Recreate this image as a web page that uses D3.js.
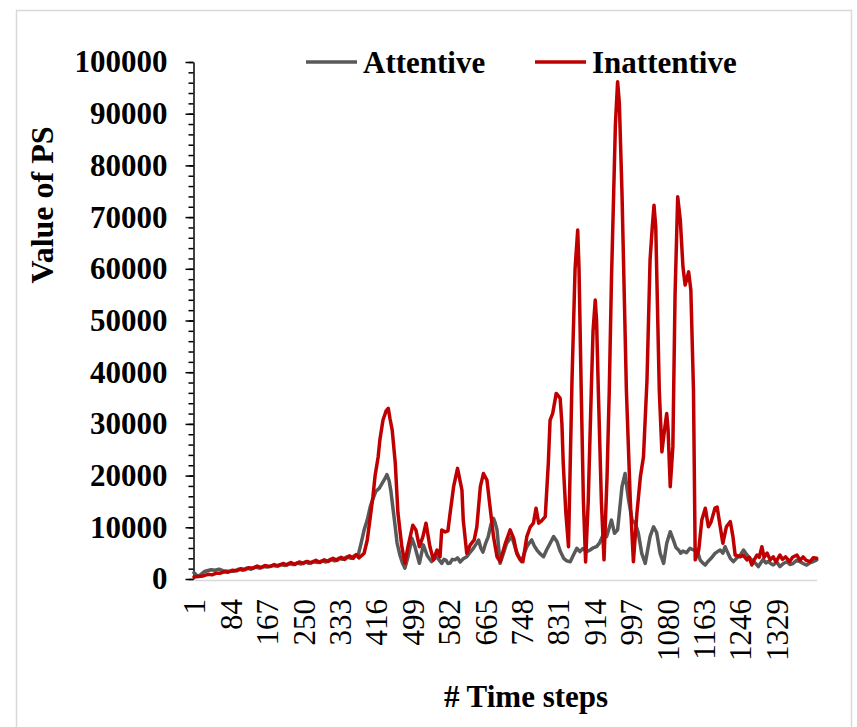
<!DOCTYPE html>
<html>
<head>
<meta charset="utf-8">
<script src="https://cdn.jsdelivr.net/npm/d3@7"></script>
<style>
  html, body { margin: 0; padding: 0; background: #fff; }
  svg { display: block; }
</style>
</head>
<body>
<svg id="chart" width="857" height="727"></svg>
<script>
// Time-step tick labels on the category axis
const xTickLabels = [1, 84, 167, 250, 333, 416, 499, 582, 665, 748, 831, 914, 997, 1080, 1163, 1246, 1329];
const lastStep = 1421;

// PS value axis
const yMajorTicks = [0, 10000, 20000, 30000, 40000, 50000, 60000, 70000, 80000, 90000, 100000];
const yMinorStep = 2000;

const seriesNames = ["Attentive", "Inattentive"];

// Attentive series: time step and value of PS
const attentiveSteps = [1, 6, 10, 17, 24, 31, 40, 49, 58, 67, 79, 92, 103, 112, 121, 131, 140, 150, 159, 168, 179, 188, 198, 208, 217, 227, 236, 245, 254, 263, 273, 283, 293, 302, 312, 322, 331, 340, 350, 359, 367, 376,
  382, 389, 396, 403, 409, 416, 423, 430, 437, 441, 446, 450, 455, 460, 464, 471, 476, 482, 489, 498, 505, 515, 524, 533, 543, 549, 555, 560, 566, 571, 576, 580, 585, 590, 596, 602, 608, 615, 623, 630, 638, 644, 650, 655, 660, 666, 672, 678, 684, 688, 692, 699,
  706, 714, 720, 726, 735, 741, 748, 754, 760, 765, 771, 777, 783, 790, 798, 805, 813, 821, 829, 836, 844, 851, 859, 866, 874, 881, 888, 896, 904, 911, 919, 926, 934, 942, 953, 960, 967, 977, 984, 992, 1000, 1007, 1014, 1022, 1030, 1041, 1049, 1056, 1064, 1072, 1079,
  1087, 1094, 1100, 1106, 1111, 1116, 1124, 1132, 1140, 1148, 1155, 1161, 1167, 1172, 1178, 1184, 1189, 1195, 1201, 1207, 1212, 1218, 1224, 1231, 1239, 1247, 1254, 1262, 1270, 1277, 1283, 1288, 1294, 1299, 1305, 1310, 1316, 1322, 1330, 1337, 1345, 1353, 1360, 1367, 1375, 1383, 1390, 1398, 1405, 1413, 1421];
const attentiveValues = [1200, 800, 500, 900, 1400, 1600, 1800, 1700, 1900, 1600, 1500, 1500, 1900, 1700, 2100, 1900, 2300, 2100, 2400, 2300, 2600, 2500, 2800, 2600, 3000, 2800, 3100, 2900, 3300, 3000, 3400, 3200, 3500, 3300, 3800, 3500, 4000, 3800, 4300, 4000, 4500, 4800,
  6900, 9500, 11400, 14000, 15500, 17000, 17500, 18500, 19500, 20200, 19000, 17000, 13500, 10000, 7000, 4500, 3200, 2100, 4300, 7870, 6200, 3030, 6600, 4500, 3350, 3900, 4300, 3700, 3030, 3800, 3600, 3000, 3100, 3800, 3700, 4100, 3300, 3900, 4300, 5100, 5940, 6700, 7550, 6000, 5200, 6900, 8200, 10500, 11750, 10800, 9500, 3030,
  4800, 6900, 7600, 8200, 5600, 4400, 3350, 4900, 6250, 6900, 7550, 6400, 5600, 4900, 4300, 5600, 6900, 8200, 7200, 5400, 4000, 3500, 3350, 4600, 5940, 5300, 5900, 5300, 5600, 6000, 6250, 7000, 8500, 8200, 11400, 8840, 9500, 17850, 20400, 15300, 11400, 10800, 9000, 4960, 3030, 8200, 10100, 9000, 4960, 3030, 6900,
  9150, 7550, 6100, 5600, 5000, 5400, 5100, 5940, 5600, 5700, 3700, 3100, 2700, 3300, 3800, 4400, 4960, 5300, 5600, 5000, 6250, 5100, 4000, 3350, 4100, 4640, 5600, 4640, 3900, 3350, 2900, 2400, 3200, 3800, 3100, 3400, 3000, 2700, 3300, 2400, 3000, 3350, 2800, 3000, 3600, 3350, 3000, 2700, 3100, 3350, 3700];

// Inattentive series: time step and value of PS
const inattentiveSteps = [1, 10, 22, 33, 42, 51, 60, 69, 79, 88, 99, 108, 117, 126, 136, 145, 154, 163, 174, 184, 193, 204, 213, 222, 231, 241, 250, 259, 268, 279, 288, 298, 307, 318, 327, 336, 345, 355, 364, 371, 377, 384,
  389, 396, 403, 409, 414, 421, 425, 432, 439, 444, 448, 453, 460, 466, 475, 482, 489, 500, 507, 515, 523, 530, 539, 547, 555, 562, 566, 574, 580, 585, 593, 602, 612, 615, 623, 631, 640, 646, 654, 661, 669, 676, 684, 692, 699,
  711, 722, 730, 737, 745, 751, 760, 768, 775, 781, 787, 793, 802, 809, 813, 819, 827, 831, 836, 840, 843, 849, 855, 863, 870, 876, 879, 884, 889, 894, 900, 907, 911, 916, 919, 923, 930, 936, 943, 948, 953, 958, 962, 967, 971, 977, 987, 996,
  1003, 1011, 1019, 1026, 1034, 1041, 1046, 1050, 1054, 1062, 1068, 1073, 1079, 1082, 1087, 1093, 1098, 1104, 1110, 1116, 1121, 1129, 1134, 1140, 1144, 1152, 1159, 1167, 1174, 1180, 1189, 1194, 1201, 1207, 1215, 1224, 1230, 1235,
  1247, 1253, 1262, 1267, 1273, 1279, 1285, 1290, 1296, 1301, 1308, 1315, 1322, 1328, 1337, 1343, 1350, 1359, 1366, 1376, 1383, 1390, 1397, 1406, 1413, 1421];
const inattentiveValues = [400, 500, 600, 900, 800, 1100, 1100, 1400, 1300, 1700, 1600, 2000, 1800, 2200, 2100, 2500, 2200, 2600, 2400, 2800, 2500, 3000, 2700, 3200, 2800, 3300, 3000, 3400, 3100, 3600, 3200, 3700, 3400, 4000, 3600, 4200, 3800, 4500, 4000, 4700, 4100, 4600,
  5000, 7500, 12000, 15900, 20000, 23650, 27000, 30750, 32500, 33000, 31000, 28800, 22400, 12800, 6250, 3030, 6250, 10400, 9500, 6250, 8200, 10800, 6250, 3700, 5600, 4300, 9500, 9100, 9300, 12700, 17850, 21400, 17200, 11400, 4960, 6600, 7550, 10100, 17850, 20400, 19150, 14000, 8200, 4300, 3350,
  6900, 9500, 7870, 4960, 3700, 3350, 8200, 10100, 10800, 13700, 10800, 11200, 12050, 22400, 30750, 32050, 35900, 35500, 34950, 30000, 22400, 12750, 6250, 38500, 60000, 67500, 60000, 36550, 15000, 3300, 15000, 36550, 48000, 53950, 50000, 36550, 15000, 3700, 20000, 36550, 58000, 74600, 88000, 96200, 92000, 74600, 36550, 15000,
  3350, 12700, 19800, 23650, 38500, 61700, 68000, 72300, 68000, 36550, 24600, 28200, 32000, 29000, 17850, 25600, 55000, 73950, 69400, 60400, 56850, 59400, 55900, 36550, 3700, 5600, 11400, 13700, 10100, 11000, 13700, 13900, 10100, 6900, 10100, 11100, 8200, 4640,
  4300, 4600, 3700, 4200, 2700, 3800, 4640, 4200, 6250, 4200, 5000, 3700, 4300, 3300, 4640, 3800, 4300, 3350, 4200, 4640, 3600, 4300, 3600, 3350, 4100, 4000];

const seriesColors = ["#595959", "#c00000"];
const fontFamily = "'Liberation Serif', 'Times New Roman', serif";

const svg = d3.select("#chart");

// chart frame
svg.append("rect")
  .attr("x", 16.5).attr("y", 10.5)
  .attr("width", 835).attr("height", 740)
  .attr("fill", "#fff")
  .attr("stroke", "#d9d9d9")
  .attr("stroke-width", 1.5);

const plot = { left: 194, right: 816.7, top: 62, bottom: 579 };

const x = d3.scaleLinear().domain([1, lastStep]).range([plot.left, plot.right]);
const y = d3.scaleLinear().domain([0, 100000]).range([plot.bottom, plot.top]);

// horizontal category axis
const xAxis = svg.append("g")
  .attr("transform", `translate(0,${plot.bottom + 1})`)
  .call(d3.axisBottom(x).tickValues(xTickLabels).tickSize(0).tickPadding(0).tickFormat(d3.format("d")));
xAxis.select(".domain").attr("stroke", "#d9d9d9").attr("stroke-width", 1.5);
xAxis.selectAll(".tick text")
  .attr("font-family", fontFamily)
  .attr("font-size", 31)
  .attr("fill", "#000")
  .attr("text-anchor", "end")
  .attr("transform", "translate(0,19) rotate(-90)")
  .attr("x", 0)
  .attr("y", 0)
  .attr("dy", "0.35em");

// vertical value axis: minor ticks then major ticks with labels
const minorTicks = d3.range(0, 100001, yMinorStep);
const yMinor = svg.append("g")
  .attr("transform", `translate(${plot.left - 0.5},0)`)
  .call(d3.axisLeft(y).tickValues(minorTicks).tickSize(5).tickFormat(""));
yMinor.select(".domain").remove();
yMinor.selectAll(".tick line").attr("stroke", "#000").attr("stroke-width", 1.5);

const yAxis = svg.append("g")
  .attr("transform", `translate(${plot.left - 0.5},0)`)
  .call(d3.axisLeft(y).tickValues(yMajorTicks).tickSize(8).tickSizeOuter(0).tickPadding(18).tickFormat(d3.format("d")));
yAxis.select(".domain").attr("stroke", "#000").attr("stroke-width", 1.5);
yAxis.selectAll(".tick line").attr("stroke", "#000").attr("stroke-width", 1.5);
yAxis.selectAll(".tick text")
  .attr("font-family", fontFamily)
  .attr("font-size", 31)
  .attr("font-weight", "bold")
  .attr("fill", "#000");

// series lines
const line = d3.line()
  .x(d => x(d[0]))
  .y(d => y(d[1]))
  .curve(d3.curveLinear);

const seriesData = [
  d3.zip(attentiveSteps, attentiveValues),
  d3.zip(inattentiveSteps, inattentiveValues)
];

svg.append("g").selectAll("path")
  .data(seriesData)
  .join("path")
  .attr("d", line)
  .attr("fill", "none")
  .attr("stroke", (d, i) => seriesColors[i])
  .attr("stroke-width", 3.5)
  .attr("stroke-linejoin", "round")
  .attr("stroke-linecap", "round");

// axis titles
svg.append("text")
  .attr("x", 526).attr("y", 707)
  .attr("text-anchor", "middle")
  .attr("font-family", fontFamily)
  .attr("font-size", 31)
  .attr("font-weight", "bold")
  .text("# Time steps");

svg.append("text")
  .attr("transform", "translate(42,205) rotate(-90)")
  .attr("text-anchor", "middle")
  .attr("dy", "0.35em")
  .attr("font-family", fontFamily)
  .attr("font-size", 32)
  .attr("font-weight", "bold")
  .text("Value of PS");

// legend
const legendItems = [
  { name: seriesNames[0], color: seriesColors[0], x: 306 },
  { name: seriesNames[1], color: seriesColors[1], x: 535 }
];
const legend = svg.append("g");
legendItems.forEach(item => {
  legend.append("line")
    .attr("x1", item.x).attr("x2", item.x + 51)
    .attr("y1", 62).attr("y2", 62)
    .attr("stroke", item.color)
    .attr("stroke-width", 3.5);
  legend.append("text")
    .attr("x", item.x + 57).attr("y", 62)
    .attr("dy", "0.35em")
    .attr("font-family", fontFamily)
    .attr("font-size", 31)
    .attr("font-weight", "bold")
    .text(item.name);
});
</script>
</body>
</html>
